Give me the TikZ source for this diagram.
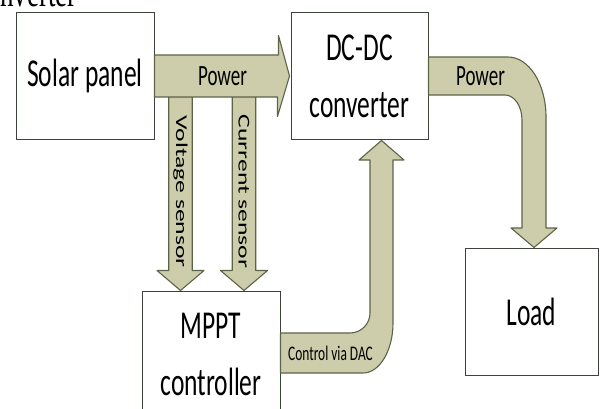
\documentclass[tikz,border=0pt]{standalone}
\usepackage{graphicx}
\usepackage{fontspec}
\setmainfont{Carlito}
\newfontfamily\captionserif{Liberation Serif}
\usetikzlibrary{calc}

\definecolor{bandfill}{RGB}{205,205,172}
\definecolor{banddraw}{RGB}{92,100,72}
\definecolor{boxdraw}{RGB}{60,68,60}

% the whole figure is stretched upwards
\newcommand{\tall}[1]{\scalebox{1}[1.55]{#1}}
\newcommand{\wide}[1]{\scalebox{1.55}[1]{#1}}

\begin{document}
\begin{tikzpicture}[x=1pt,y=1pt,
	block/.style={draw=boxdraw,line width=1pt,minimum width=138pt,minimum height=126pt,
		inner sep=0pt,align=center,font=\fontsize{25.5}{57}\selectfont},
	band/.style={fill=bandfill,draw=banddraw,line width=1.1pt,line join=round},
	bandtxt/.style={inner sep=0pt,font=\fontsize{19}{19}\selectfont}]
	
		\useasboundingbox (0,0) rectangle (600,408);
		\clip (0,0) rectangle (600,408);
		\pgfmathsetmacro{\shaft}{174}
		
		% caption of the figure above, cut off
		\node[anchor=base east,inner sep=0pt,font=\captionserif\fontsize{27}{27}\selectfont]
		(cap) at (77,401) {\tall{nverter}};
		
		\node[block] (solar) at (85,332) {\tall{Solar panel}};
		\node[block,minimum width=137pt] (dcdc) at (359.5,332) {\tall{DC-DC}\\\tall{converter}};
		\node[block] (mppt) at (211,54) {\tall{MPPT}\\\tall{controller}};
		\node[block,minimum width=133pt,minimum height=127pt] (load) at (531.5,96.5) {\tall{Load}};
		
		% sensor arrows down into the controller
		\foreach \dx/\lbl/\nm in {-30.5/Voltage sensor/vsense,33/Current sensor/isense}{
			\draw[band] ($(mppt.north)+(\dx,0)$) coordinate (tip\nm) -- ++(-23.5,20) -- ++(11.75,0)
			-- ++(0,\shaft) -- ++(23.5,0) -- ++(0,-\shaft) -- ++(11.75,0) -- cycle;
			\node[rotate=-90,inner sep=0pt,font=\fontsize{16.5}{16.5}\selectfont]
			(\nm) at ($(tip\nm)+(0,99)$) {\wide{\lbl}};
		}
		
		% power from the panel
		\draw[band] ($(solar.east)+(0,21)$) -- ++(124,0) -- ++(0,19.5)
		-- ($(dcdc.west)+(-1,0)$) -- ++(-12,-40.5) -- ++(0,19.5)
		-- ($(solar.east)+(0,-21)$) -- cycle;
		\node[bandtxt] (pw1) at ($(solar.east)!0.5!(dcdc.west)$) {\tall{Power}};
		
		% power to the load
		\draw[band] ($(dcdc.east)+(0,19)$) -- (508,351)
		arc[start angle=90,end angle=0,x radius=38,y radius=60]
		-- (546,180) -- (557,180) -- (534,0 |- load.north) -- (511,180) -- (522,180)
		-- (522,288) arc[start angle=0,end angle=90,x radius=17,y radius=25]
		-- ($(dcdc.east)+(0,-19)$) -- cycle;
		\node[bandtxt] (pw2) at ($(dcdc.east)+(52,0)$) {\tall{Power}};
		
		% control back to the converter
		\draw[band] ($(mppt.east)+(0,21)$) -- (350,75)
		arc[start angle=-90,end angle=0,x radius=20,y radius=20]
		-- (370,248) -- (359,248) -- ($(dcdc.south)+(22,-1)$) -- (404,248) -- (393,248)
		-- (393,85) arc[start angle=0,end angle=-90,x radius=30,y radius=50]
		-- ($(mppt.east)+(0,-19)$) -- cycle;
		\node[bandtxt,font=\fontsize{13.4}{13.4}\selectfont] (dac) at ($(mppt.east)+(50,1)$) {\tall{Control via DAC}};
		
	\end{tikzpicture}
\end{document}
